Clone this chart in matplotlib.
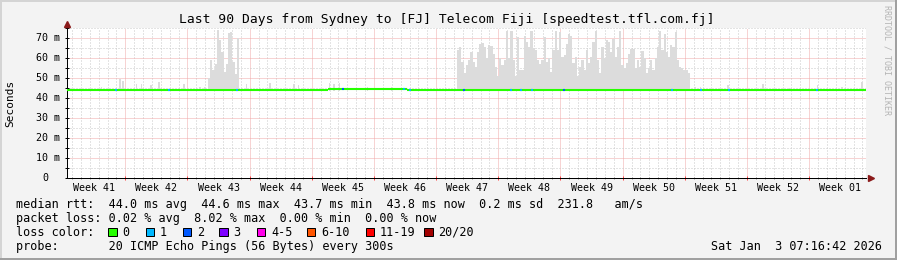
import matplotlib
matplotlib.use("Agg")
import matplotlib.pyplot as plt
from matplotlib.patches import Rectangle

W, H = 897, 260
MONO = "DejaVu Sans Mono"
plt.rcParams["font.family"] = [MONO, "DejaVu Sans"]
plt.rcParams["lines.scale_dashes"] = False

# ---- data: x is days since the start of the 90 day window, y in ms ----
days_total = 90.0
first_week_line = 6.6
week_names = ["Week 41", "Week 42", "Week 43", "Week 44", "Week 45", "Week 46", "Week 47",
              "Week 48", "Week 49", "Week 50", "Week 51", "Week 52", "Week 01"]
y_ticks = [0, 10, 20, 30, 40, 50, 60, 70]
y_max = 74.0

median_breaks = [0.0, 29.42, 38.32, 90.0]
median_ms = [43.9, 44.4, 43.9]

loss_days = [5.52, 11.52, 19.17, 31.11, 37.98, 38.66, 44.74, 50.03, 51.12, 52.36,
             56.0, 68.16, 71.42, 74.57, 84.45]
loss_counts = [1, 1, 1, 2, 1, 1, 2, 1, 1, 1, 2, 1, 1, 1, 1]

loss_names = ["0", "1", "2", "3", "4-5", "6-10", "11-19", "20/20"]
loss_colors = ["#26ff00", "#00b8ff", "#0059ff", "#7e00ff", "#ff00ea", "#ff5500", "#ff0000", "#a10000"]

smoke_floor = 43.5
smoke_bin = 0.25
burst1_start = 15.91
burst1_top = [50, 59, 54, 57, 74, 69, 63, 53, 57, 72.5, 73, 58, 52, 70]
burst2_start = 43.95
burst2_top = [64, 65.4, 58, 52.3, 56.4, 59, 63, 58, 55.6, 63,
              67, 67.5, 65.4, 59.7, 66.2, 66, 62, 55.6, 50.7, 59.7,
              56.4, 59, 73.3, 59.7, 73.6, 59, 50.7, 70.3, 54, 54,
              71, 67.9, 65.4, 73.3, 65, 63.8, 59, 57, 59, 70.3,
              58, 59.7, 53, 63.8, 73.6, 63.8, 72.8, 60.5, 61.3, 67,
              72, 71, 57.2, 60.5, 50.7, 55.6, 59, 54, 63.8, 57.2,
              60.5, 68, 73.6, 59, 52.3, 65.4, 59.7, 68.7, 68, 63,
              69.5, 60.5, 65.4, 73.6, 56.4, 54.8, 57.2, 62.1, 64.6, 64.6,
              54.8, 59, 55.6, 63.5, 59.7, 52.3, 54.8, 59, 54, 59.7,
              65.4, 73.6, 63.8, 72, 63, 60.5, 66.2, 65.4, 72.8, 59,
              55.6, 54.8, 54, 54, 52.3]
spike_days = [3.94, 6.0, 6.35, 7.9, 8.4, 9.5, 10.4, 13.2, 15.0, 15.5, 20.27, 22.9, 25.6, 26.1,
              29.6, 30.1, 30.7, 33.9, 36.6, 69.6, 70.75, 71.4, 73.2, 74.46, 78.4, 81.4, 84.5,
              87.3, 89.55]
spike_top = [45.5, 49.5, 48.5, 47, 47, 46.5, 48, 47, 45.5, 45.5, 47, 47.5, 47, 46.5,
             47.5, 47, 47.5, 45.5, 45.5, 46, 45.5, 45.6, 45, 46.5, 47, 45, 46.5,
             45.5, 47.9]

title = "Last 90 Days from Sydney to [FJ] Telecom Fiji [speedtest.tfl.com.fj]"
line_rtt = "median rtt:  44.0 ms avg  44.6 ms max  43.7 ms min  43.8 ms now  0.2 ms sd  231.8   am/s"
line_loss = "packet loss: 0.02 % avg  8.02 % max  0.00 % min  0.00 % now"
line_probe = "probe:       20 ICMP Echo Pings (56 Bytes) every 300s"
stamp = "Sat Jan  3 07:16:42 2026"


def fx(x):
    return x / W


def fy(y):
    return 1 - y / H


BG = "#f3f3f3"
SMOKE = "#dcdcdc"
MGRID = "#f0a8a8"
GRID = "#c8c8c8"

fig = plt.figure(figsize=(W / 100, H / 100), dpi=100, facecolor=BG)
ax_l, ax_r, ax_t, ax_b = 66.7, 866.0, 27.7, 178.0
ax = fig.add_axes([fx(ax_l), fy(ax_b), (ax_r - ax_l) / W, (ax_b - ax_t) / H])
ax.set_facecolor("white")
ax.set_xlim(0, days_total)
ax.set_ylim(0, y_max)

# grid
week_lines = [first_week_line + 7 * k for k in range(12)]
day_lines = [first_week_line - 6 + d for d in range(90)]
ax.set_xticks(week_lines)
ax.set_xticks(day_lines, minor=True)
ax.set_yticks(y_ticks)
ax.set_yticks([v + 5 for v in y_ticks], minor=True)
ax.grid(True, which="major", color=MGRID, lw=0.72, ls=(0, (0.72, 0.72)), zorder=0)
ax.grid(True, which="minor", color=GRID, lw=0.72, ls=(0, (0.72, 1.44)), zorder=0)
ax.set_axisbelow(True)
ax.tick_params(axis="x", which="major", length=2.2, width=0.72, color="#ff4040",
               direction="inout", labelbottom=False)
ax.tick_params(axis="x", which="minor", length=1.5, width=0.72, color="#909090",
               direction="inout")
ax.tick_params(axis="y", which="both", length=2.2, width=0.72, color="black",
               direction="inout", labelleft=False)
for s in ["top", "right"]:
    ax.spines[s].set_visible(False)
for s in ["left", "bottom"]:
    ax.spines[s].set_linewidth(0.72)
    ax.spines[s].set_color("black")

# smoke
edges1 = [burst1_start + i * smoke_bin for i in range(len(burst1_top) + 1)]
edges2 = [burst2_start + i * smoke_bin for i in range(len(burst2_top) + 1)]
ax.stairs(burst1_top, edges1, baseline=smoke_floor, fill=True, color=SMOKE, lw=0, zorder=2)
ax.stairs(burst2_top, edges2, baseline=smoke_floor, fill=True, color=SMOKE, lw=0, zorder=2)
ax.bar(spike_days, [t - smoke_floor for t in spike_top], bottom=smoke_floor, width=0.14,
       align="center", color=SMOKE, lw=0, zorder=2)

# median line coloured by loss
for i, m in enumerate(median_ms):
    ax.hlines(m, median_breaks[i], median_breaks[i + 1], color=loss_colors[0], lw=1.5, zorder=3)
for d, n in zip(loss_days, loss_counts):
    seg = max(i for i in range(len(median_ms)) if median_breaks[i] <= d)
    ax.hlines(median_ms[seg], d - 0.1, d + 0.1, color=loss_colors[n], lw=1.5, zorder=4)

# axis arrows
ax.plot(0, 1.027, marker="^", ms=4.5, color="#8b1a1a", transform=ax.transAxes, clip_on=False, zorder=5)
ax.plot(1.0058, 0, marker=">", ms=4.5, color="#8b1a1a", transform=ax.transAxes, clip_on=False, zorder=5)

# axis labels
xtr = ax.get_xaxis_transform()
for k, name in enumerate(week_names):
    ax.text(first_week_line - 3.5 + 7 * k, (ax_b - 187.7) / (ax_b - ax_t), name,
            transform=xtr, ha="center", va="center", fontsize=7.2)
ytr = ax.get_yaxis_transform()
for v in y_ticks:
    lab = "0" if v == 0 else f"{v} m"
    xr = 48.5 if v == 0 else 60.5
    ax.text((xr - ax_l) / (ax_r - ax_l), v, lab, transform=ytr, ha="right", va="center",
            fontsize=7.2)
fig.text(fx(10.5), fy(103), "Seconds", rotation=90, ha="center", va="center", fontsize=8)

# title and side text
fig.text(fx(447), fy(19), title, ha="center", va="center", fontsize=9.4)
fig.text(fx(887), fy(60), "RRDTOOL / TOBI OETIKER", rotation=270, ha="center", va="center",
         fontsize=6, color="#b4b4b4")

# legend block
fs = 8.5
fig.text(fx(15.5), fy(204.3), line_rtt, ha="left", va="center", fontsize=fs)
fig.text(fx(15.5), fy(218.3), line_loss, ha="left", va="center", fontsize=fs)
fig.text(fx(15.5), fy(232.3), "loss color:", ha="left", va="center", fontsize=fs)
fig.text(fx(15.5), fy(246.3), line_probe, ha="left", va="center", fontsize=fs)
fig.text(fx(882), fy(246.3), stamp, ha="right", va="center", fontsize=fs)

box_x = [108.3, 145.7, 182.7, 219.3, 256.7, 306.7, 365.7, 424.3]
for bx, name, col in zip(box_x, loss_names, loss_colors):
    fig.patches.append(Rectangle((fx(bx), fy(236.2)), 8.3 / W, 8.3 / H, transform=fig.transFigure,
                                 facecolor=col, edgecolor="black", lw=0.72))
    fig.text(fx(bx + 14.3), fy(232.3), name, ha="left", va="center", fontsize=fs)

# image frame
fig.patches.append(Rectangle((0, 0), 1, 2 / H, transform=fig.transFigure, color="#a0a0a0", lw=0))
fig.patches.append(Rectangle((1 - 2 / W, 0), 2 / W, 1, transform=fig.transFigure, color="#a0a0a0", lw=0))
fig.patches.append(Rectangle((0, 1 - 2 / H), 1 - 2 / W, 2 / H, transform=fig.transFigure, color="#d4d4d4", lw=0))
fig.patches.append(Rectangle((0, 2 / H), 2 / W, 1 - 4 / H, transform=fig.transFigure, color="#d4d4d4", lw=0))

fig.savefig("out.png", dpi=100, facecolor=BG)
